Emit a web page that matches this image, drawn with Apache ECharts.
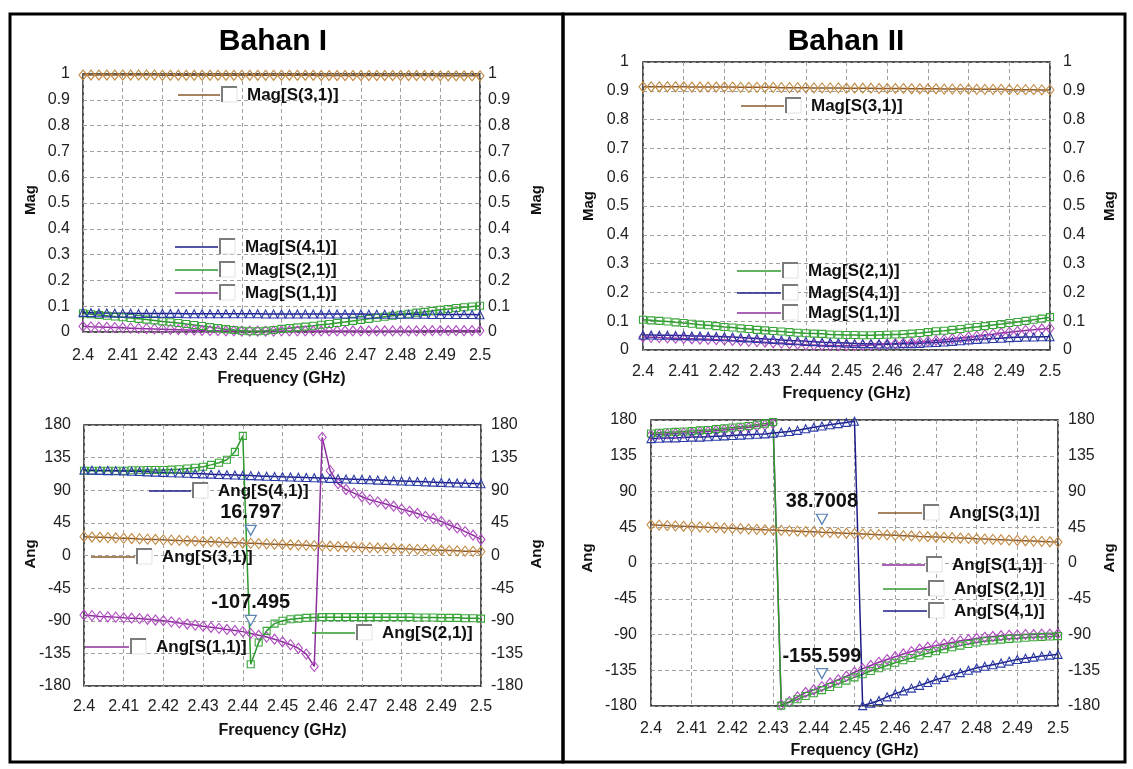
<!DOCTYPE html>
<html>
<head>
<meta charset="utf-8">
<title>Bahan I / Bahan II – S-parameters</title>
<script src="https://cdn.jsdelivr.net/npm/echarts@6.0.0/dist/echarts.min.js"></script>
<style>
  html, body { margin: 0; padding: 0; background: #fff; }
  #chart { width: 1133px; height: 769px; }
</style>
</head>
<body>
<div id="chart"></div>
<script>
// Frequency sweep (GHz)
const freq = [2.400,2.402,2.404,2.406,2.408,2.410,2.412,2.414,2.416,2.418,2.420,2.422,2.424,2.426,2.428,2.430,2.432,2.434,2.436,2.438,2.440,2.442,2.444,2.446,2.448,2.450,2.452,2.454,2.456,2.458,2.460,2.462,2.464,2.466,2.468,2.470,2.472,2.474,2.476,2.478,2.480,2.482,2.484,2.486,2.488,2.490,2.492,2.494,2.496,2.498,2.500];

// Bahan I – magnitude
const magS31_I = [0.996,0.996,0.996,0.996,0.996,0.996,0.996,0.996,0.996,0.996,0.995,0.995,0.995,0.995,0.995,0.995,0.995,0.995,0.995,0.995,0.995,0.995,0.995,0.995,0.995,0.995,0.995,0.995,0.995,0.995,0.994,0.994,0.994,0.994,0.994,0.994,0.994,0.994,0.994,0.994,0.994,0.994,0.994,0.994,0.994,0.993,0.993,0.993,0.993,0.993,0.993];
const magS41_I = [0.076,0.075,0.074,0.074,0.073,0.073,0.073,0.072,0.072,0.072,0.072,0.072,0.072,0.071,0.071,0.071,0.071,0.071,0.071,0.071,0.071,0.071,0.071,0.070,0.070,0.070,0.070,0.070,0.070,0.070,0.070,0.070,0.070,0.070,0.070,0.070,0.069,0.069,0.069,0.069,0.069,0.069,0.069,0.069,0.068,0.068,0.068,0.068,0.068,0.068,0.067];
const magS21_I = [0.072,0.069,0.066,0.063,0.060,0.057,0.054,0.051,0.048,0.045,0.041,0.038,0.035,0.031,0.027,0.023,0.019,0.015,0.011,0.008,0.005,0.003,0.003,0.005,0.008,0.012,0.015,0.018,0.021,0.024,0.028,0.031,0.035,0.039,0.043,0.047,0.051,0.055,0.059,0.063,0.067,0.071,0.075,0.078,0.082,0.086,0.089,0.093,0.096,0.099,0.102];
const magS11_I = [0.022,0.020,0.019,0.018,0.017,0.016,0.015,0.014,0.013,0.012,0.011,0.010,0.009,0.008,0.007,0.006,0.005,0.005,0.004,0.004,0.003,0.003,0.003,0.003,0.003,0.004,0.004,0.004,0.004,0.004,0.004,0.004,0.004,0.004,0.004,0.004,0.004,0.004,0.004,0.004,0.004,0.004,0.004,0.005,0.005,0.005,0.005,0.005,0.005,0.005,0.005];

// Bahan I – phase (deg)
const angS31_I = [26.0,25.5,25.1,24.7,24.2,23.8,23.4,22.9,22.5,22.1,21.6,21.2,20.7,20.3,19.9,19.4,19.0,18.5,18.1,17.7,17.2,16.797,16.4,16.0,15.6,15.2,14.8,14.4,14.0,13.6,13.2,12.8,12.4,12.0,11.6,11.2,10.8,10.4,10.0,9.6,9.2,8.8,8.4,8.0,7.6,7.2,6.8,6.4,6.0,5.7,5.4];
const angS41_I = [118.0,117.7,117.4,117.1,116.8,116.5,116.2,115.8,115.4,115.0,114.6,114.2,113.8,113.4,113.0,112.6,112.2,111.8,111.4,111.0,110.6,110.2,109.8,109.4,109.0,108.6,108.3,107.9,107.5,107.2,106.8,106.4,106.0,105.6,105.2,104.8,104.4,104.0,103.6,103.2,102.8,102.4,102.0,101.6,101.2,100.8,100.4,100.0,99.6,99.3,99.0];
const angS21_I = [117,117,117,117,117,117,117.5,117.5,118,118,118,118.5,119,120,121,122.5,125,128,132,143,165,-150,-120,-104,-94,-90,-88,-87,-86,-85.5,-85,-85,-85,-85,-85,-85,-85,-85,-85,-85,-85,-85,-85.5,-85.5,-85.5,-86,-86,-86,-86.5,-86.5,-87];
const angS11_I = [-82,-83,-84,-84.5,-85,-86,-86.5,-87,-88,-89,-90,-91.5,-93,-94.5,-96,-97.5,-99,-100.5,-102,-103.5,-105,-107.495,-110,-112.5,-115.5,-119,-123,-128,-136,-153,163,117,99,91,86,81,77,74,71,68,64,61,58,54,51,47,42,38,33,28,22];

// Bahan II – magnitude
const magS31_II = [0.914,0.914,0.914,0.914,0.914,0.914,0.913,0.913,0.913,0.913,0.913,0.913,0.912,0.912,0.912,0.912,0.912,0.911,0.911,0.911,0.911,0.910,0.910,0.910,0.910,0.909,0.909,0.909,0.909,0.908,0.908,0.908,0.908,0.907,0.907,0.907,0.907,0.906,0.906,0.906,0.906,0.905,0.905,0.905,0.905,0.904,0.904,0.904,0.904,0.903,0.903];
const magS21_II = [0.105,0.103,0.101,0.099,0.096,0.094,0.091,0.088,0.086,0.083,0.080,0.078,0.075,0.073,0.070,0.068,0.066,0.064,0.062,0.060,0.058,0.057,0.056,0.054,0.053,0.052,0.052,0.051,0.051,0.052,0.053,0.054,0.055,0.057,0.059,0.062,0.065,0.067,0.070,0.073,0.077,0.080,0.083,0.087,0.090,0.094,0.097,0.101,0.105,0.109,0.114];
const magS41_II = [0.052,0.052,0.051,0.051,0.050,0.050,0.049,0.049,0.048,0.047,0.046,0.045,0.043,0.042,0.040,0.038,0.037,0.035,0.033,0.032,0.030,0.029,0.027,0.026,0.025,0.024,0.023,0.022,0.022,0.021,0.021,0.021,0.022,0.022,0.023,0.025,0.026,0.028,0.030,0.032,0.035,0.037,0.038,0.040,0.041,0.043,0.044,0.045,0.045,0.046,0.046];
const magS11_II = [0.045,0.044,0.043,0.042,0.041,0.040,0.039,0.038,0.037,0.036,0.035,0.033,0.032,0.030,0.029,0.027,0.025,0.024,0.022,0.020,0.018,0.017,0.016,0.016,0.015,0.015,0.015,0.016,0.017,0.018,0.020,0.022,0.024,0.026,0.028,0.030,0.033,0.036,0.039,0.042,0.045,0.048,0.052,0.055,0.059,0.062,0.065,0.068,0.070,0.073,0.075];

// Bahan II – phase (deg)
const angS31_II = [48.0,47.6,47.1,46.7,46.2,45.8,45.4,44.9,44.5,44.0,43.6,43.2,42.7,42.3,41.8,41.4,41.0,40.5,40.1,39.6,39.2,38.7008,38.3,37.9,37.4,37.0,36.6,36.1,35.7,35.3,34.8,34.4,34.0,33.5,33.1,32.7,32.3,31.8,31.4,31.0,30.5,30.1,29.7,29.3,28.8,28.4,28.0,27.6,27.2,26.7,26.3];
const angS21_II = [163,164,164.5,165,165.5,166,167,167.5,168.5,169.5,170.5,171.5,172.5,174,175.5,177.5,-179.5,-175.5,-171.5,-167.5,-164,-160,-156,-152,-148,-144,-140,-136,-132.5,-129,-125.5,-122.5,-119.5,-116.5,-113.5,-111,-108.5,-106,-104,-102,-100,-98.5,-97.5,-96.5,-95.5,-95,-94,-93.5,-93,-92.5,-92];
const angS11_II = [161,162,162.5,163,163.5,164,165,165.5,166.5,167.5,168.5,169.5,170.5,172,173.5,175.5,-178.5,-174.5,-168.5,-163,-159.5,-155.599,-151,-147,-142.5,-137.5,-133,-129,-125,-121.5,-118,-114.5,-111.5,-108.5,-106,-104,-102,-100,-98,-96.5,-95,-93.5,-92.5,-91.5,-91,-90.5,-90,-90,-89.5,-89.5,-89];
const angS41_II = [156.5,157,157.5,157.5,158,158.5,158.5,159,159.5,160,160.5,161,161.5,162,162.5,163.5,164.5,165.5,167,169,171,172.5,174,175.5,177,178.5,-179.5,-176.5,-173,-168.5,-164.5,-161,-157.5,-154,-150.5,-147,-144,-141,-138,-135,-132,-130,-128,-126,-123.5,-121.5,-120,-118.5,-117,-116,-115];

// Marker readout position (index into freq)
const markIdx = 21;

// Axis tick settings
const magTicks = { min: 0, max: 1, interval: 0.1 };
const angTicks = { min: -180, max: 180, interval: 45 };
const freqTicks = { min: 2.4, max: 2.5, interval: 0.01 };

const FONT = '"Liberation Sans", Arial, Helvetica, sans-serif';

const colors = {
  s31: { line: '#8a5a2c', sym: '#c28a44' },
  s41: { line: '#1c1c88', sym: '#2b3ba6' },
  s21: { line: '#2e9a2e', sym: '#3aa63a' },
  s11: { line: '#8c2e9c', sym: '#b04cc0' }
};
const shapes = {
  s31: { symbol: 'diamond', size: [8, 10] },
  s11: { symbol: 'diamond', size: [8, 10] },
  s21: { symbol: 'rect', size: [7, 7] },
  s41: { symbol: 'triangle', size: [8, 8] }
};

const grids = [
  { left: 83, top: 74, width: 397, height: 258 },
  { left: 84, top: 425, width: 397, height: 261 },
  { left: 643, top: 62, width: 407, height: 288 },
  { left: 651, top: 420, width: 407, height: 286 }
];

function xAxis(g, labelMargin, nameGap) {
  return {
    type: 'value', gridIndex: g,
    min: freqTicks.min, max: freqTicks.max, interval: freqTicks.interval,
    axisLine: { show: false }, axisTick: { show: false },
    axisLabel: {
      margin: labelMargin, fontSize: 16, color: '#222', fontFamily: FONT,
      formatter: v => String(+v.toFixed(2))
    },
    splitLine: { show: true, lineStyle: { color: '#a0a0a0', type: [4, 3], width: 1 } },
    name: 'Frequency (GHz)', nameLocation: 'middle', nameGap: nameGap,
    nameTextStyle: { fontWeight: 'bold', fontSize: 16, color: '#111', fontFamily: FONT }
  };
}

function yAxis(g, pos, ticks, margin) {
  return {
    type: 'value', gridIndex: g, position: pos,
    min: ticks.min, max: ticks.max, interval: ticks.interval,
    axisLine: { show: false }, axisTick: { show: false },
    axisLabel: { margin: margin, fontSize: 16, color: '#222', fontFamily: FONT },
    splitLine: {
      show: pos === 'left',
      lineStyle: { color: '#a0a0a0', type: [4, 3], width: 1 }
    }
  };
}

function series(key, xi, yi, vals, label) {
  const c = colors[key], s = shapes[key];
  const out = {
    type: 'line', name: key, xAxisIndex: xi, yAxisIndex: yi,
    data: freq.map((f, i) => [f, vals[i]]),
    symbol: s.symbol, symbolSize: s.size, showAllSymbol: true,
    lineStyle: { color: c.line, width: 1.5 },
    itemStyle: { color: 'rgba(255,255,255,0)', borderColor: c.sym, borderWidth: 1.1 },
    emphasis: { disabled: true },
    clip: false
  };
  if (label) {
    out.markPoint = {
      silent: true,
      symbol: 'path://M0,0L10,0L5,9Z',
      symbolSize: [11, 10],
      symbolOffset: [0, -13],
      itemStyle: { color: '#ffffff', borderColor: '#5d86b6', borderWidth: 1.3 },
      label: {
        show: true, position: 'top', distance: 2,
        formatter: p => String(p.value),
        fontSize: 20, fontWeight: 'bold', color: '#111', fontFamily: FONT
      },
      data: [{ coord: [freq[markIdx], vals[markIdx]], value: vals[markIdx] }]
    };
  }
  return out;
}

// Legend entry: coloured stroke, an empty check box, and the trace name
function legendEntry(x0, x1, y, key, text) {
  const bx = x1 + 2, by = y - 8;
  return [
    { type: 'line', z: 100, shape: { x1: x0, y1: y, x2: x1, y2: y }, style: { stroke: colors[key].line, lineWidth: 1.5 } },
    { type: 'rect', z: 100, shape: { x: bx, y: by, width: 15, height: 15 }, style: { fill: '#fff', stroke: '#e2e2e2', lineWidth: 1 } },
    { type: 'polyline', z: 101, shape: { points: [[bx, by + 15], [bx, by], [bx + 15, by]] }, style: { stroke: '#7c7c7c', lineWidth: 2, fill: null } },
    { type: 'text', z: 100, x: x1 + 27, y: y, style: { text: text, fill: '#111', font: 'bold 17px ' + FONT, verticalAlign: 'middle', align: 'left' } }
  ];
}

function vText(x, y, text) {
  return { type: 'text', x: x, y: y, rotation: Math.PI / 2,
    style: { text: text, fill: '#111', font: 'bold 15px ' + FONT, align: 'center', verticalAlign: 'middle' } };
}

const graphics = [
  // panel frames
  { type: 'rect', shape: { x: 10, y: 14, width: 553, height: 748 }, style: { fill: null, stroke: '#000', lineWidth: 3 } },
  { type: 'rect', shape: { x: 563, y: 14, width: 562, height: 748 }, style: { fill: null, stroke: '#000', lineWidth: 3 } },
  // titles
  { type: 'text', x: 273, y: 42, style: { text: 'Bahan I', fill: '#000', font: 'bold 30px ' + FONT, align: 'center', verticalAlign: 'middle' } },
  { type: 'text', x: 846, y: 42, style: { text: 'Bahan II', fill: '#000', font: 'bold 30px ' + FONT, align: 'center', verticalAlign: 'middle' } },
  // axis titles
  vText(31, 200, 'Mag'), vText(537, 200, 'Mag'),
  vText(31, 554, 'Ang'), vText(537, 554, 'Ang'),
  vText(589, 206, 'Mag'), vText(1110, 206, 'Mag'),
  vText(588, 558, 'Ang'), vText(1110, 558, 'Ang'),
  // legends – Bahan I
  ...legendEntry(178, 220, 95, 's31', 'Mag[S(3,1)]'),
  ...legendEntry(175, 218, 247, 's41', 'Mag[S(4,1)]'),
  ...legendEntry(175, 218, 270, 's21', 'Mag[S(2,1)]'),
  ...legendEntry(175, 218, 293, 's11', 'Mag[S(1,1)]'),
  ...legendEntry(149, 191, 491, 's41', 'Ang[S(4,1)]'),
  ...legendEntry(91, 135, 557, 's31', 'Ang[S(3,1)]'),
  ...legendEntry(85, 129, 647, 's11', 'Ang[S(1,1)]'),
  ...legendEntry(312, 355, 633, 's21', 'Ang[S(2,1)]'),
  // legends – Bahan II
  ...legendEntry(741, 784, 106, 's31', 'Mag[S(3,1)]'),
  ...legendEntry(737, 781, 271, 's21', 'Mag[S(2,1)]'),
  ...legendEntry(737, 781, 293, 's41', 'Mag[S(4,1)]'),
  ...legendEntry(737, 781, 313, 's11', 'Mag[S(1,1)]'),
  ...legendEntry(878, 922, 513, 's31', 'Ang[S(3,1)]'),
  ...legendEntry(882, 925, 565, 's11', 'Ang[S(1,1)]'),
  ...legendEntry(883, 927, 589, 's21', 'Ang[S(2,1)]'),
  ...legendEntry(883, 927, 611, 's41', 'Ang[S(4,1)]')
];

const option = {
  animation: false,
  backgroundColor: '#ffffff',
  grid: grids.map(g => Object.assign({ show: true, borderColor: '#1a1a1a', borderWidth: 1.5, backgroundColor: 'transparent' }, g)),
  xAxis: [xAxis(0, 16, 39), xAxis(1, 13, 37), xAxis(2, 14, 36), xAxis(3, 15, 37)],
  yAxis: [
    yAxis(0, 'left', magTicks, 13), yAxis(0, 'right', magTicks, 8),
    yAxis(1, 'left', angTicks, 13), yAxis(1, 'right', angTicks, 10),
    yAxis(2, 'left', magTicks, 14), yAxis(2, 'right', magTicks, 13),
    yAxis(3, 'left', angTicks, 14), yAxis(3, 'right', angTicks, 10)
  ],
  series: [
    // Bahan I – Mag
    series('s11', 0, 0, magS11_I),
    series('s21', 0, 0, magS21_I),
    series('s41', 0, 0, magS41_I),
    series('s31', 0, 0, magS31_I),
    // Bahan I – Ang
    series('s11', 1, 2, angS11_I, true),
    series('s21', 1, 2, angS21_I),
    series('s41', 1, 2, angS41_I),
    series('s31', 1, 2, angS31_I, true),
    // Bahan II – Mag
    series('s11', 2, 4, magS11_II),
    series('s41', 2, 4, magS41_II),
    series('s21', 2, 4, magS21_II),
    series('s31', 2, 4, magS31_II),
    // Bahan II – Ang
    series('s11', 3, 6, angS11_II, true),
    series('s21', 3, 6, angS21_II),
    series('s41', 3, 6, angS41_II),
    series('s31', 3, 6, angS31_II, true)
  ],
  graphic: graphics
};

const chart = echarts.init(document.getElementById('chart'), null, { renderer: 'canvas' });
chart.setOption(option);
</script>
</body>
</html>
